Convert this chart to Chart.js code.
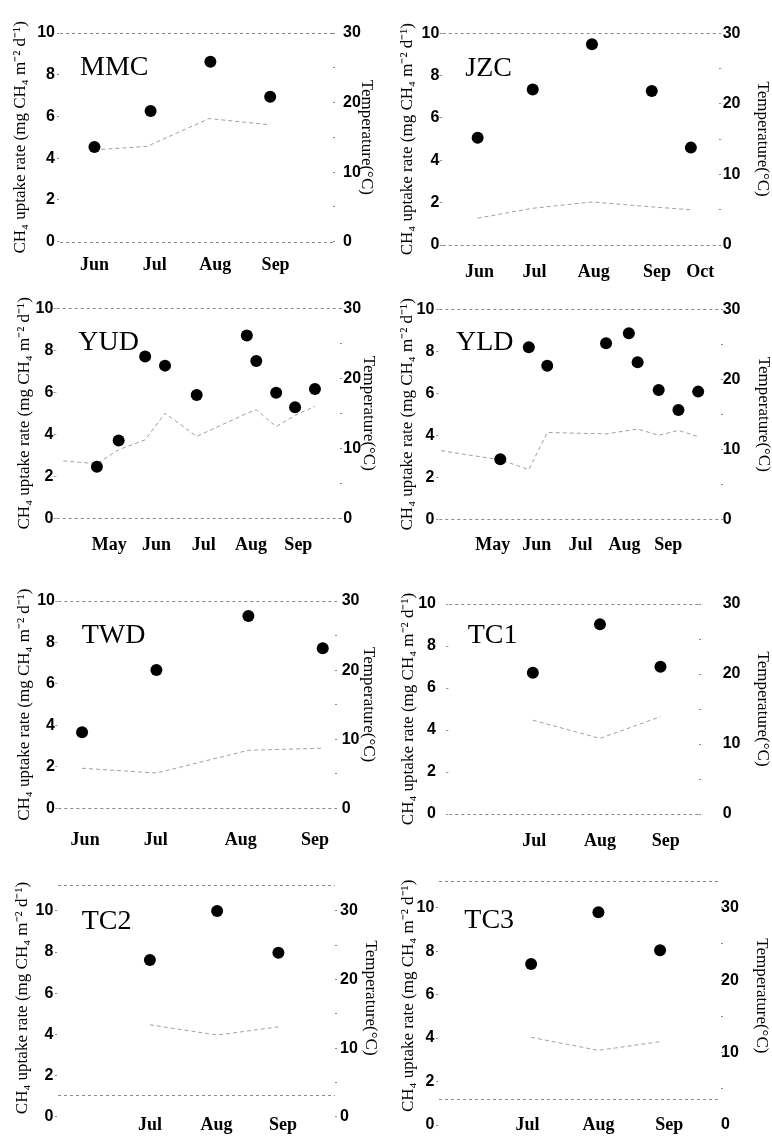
<!DOCTYPE html>
<html><head><meta charset="utf-8">
<script src="https://cdn.jsdelivr.net/npm/chart.js@4.4.1/dist/chart.umd.min.js"></script>
<style>
html,body{margin:0;padding:0;background:#fff;}
#wrap{position:relative;width:772px;height:1140px;overflow:hidden;background:#fff;}
canvas{position:absolute;}
</style></head><body><div id="wrap"></div>
<script>
// ---------- DATA (time in month units: 6 = Jun, 7 = Jul ...) ----------
const uptakeTicks = [0, 2, 4, 6, 8, 10];
const tempTicks = [0, 5, 10, 15, 20, 25, 30];

// MMC
const mmcMonths = ['Jun', 'Jul', 'Aug', 'Sep'];
const mmcMonthPos = [6, 7, 8, 9];
const mmcXRange = [5.43, 9.95];
const mmcTime = [6.0, 6.93, 7.92, 8.91];
const mmcUptake = [4.54, 6.26, 8.62, 6.95];
const mmcTempTime = [6.0, 6.87, 7.9, 8.91];
const mmcTemp = [13.2, 13.7, 17.7, 16.8];

// JZC
const jzcMonths = ['Jun', 'Jul', 'Aug', 'Sep', 'Oct'];
const jzcMonthPos = [6.0, 6.93, 7.93, 9.0, 9.73];
const jzcXRange = [5.38, 10.05];
const jzcTime = [5.97, 6.90, 7.90, 8.91, 9.57];
const jzcUptake = [5.07, 7.35, 9.48, 7.27, 4.60];
const jzcTempTime = [5.97, 6.90, 7.90, 8.91, 9.57];
const jzcTemp = [3.8, 5.2, 6.1, 5.4, 5.0];

// YUD
const yudMonths = ['May', 'Jun', 'Jul', 'Aug', 'Sep'];
const yudMonthPos = [5, 6, 7, 8, 9];
const yudXRange = [3.89, 9.88];
const yudTime = [4.74, 5.20, 5.76, 6.18, 6.85, 7.91, 8.11, 8.53, 8.93, 9.35];
const yudUptake = [2.46, 3.70, 7.70, 7.27, 5.87, 8.71, 7.49, 5.98, 5.29, 6.16];
const yudTempTime = [4.03, 4.74, 5.20, 5.76, 6.18, 6.85, 7.91, 8.11, 8.53, 8.93, 9.35];
const yudTemp = [8.2, 7.8, 9.8, 11.2, 15.0, 11.7, 15.0, 15.5, 13.1, 14.7, 16.0];

// YLD
const yldMonths = ['May', 'Jun', 'Jul', 'Aug', 'Sep'];
const yldMonthPos = [5, 6, 7, 8, 9];
const yldXRange = [3.78, 10.20];
const yldTime = [5.17, 5.82, 6.24, 7.58, 8.10, 8.30, 8.78, 9.23, 9.68];
const yldUptake = [2.86, 8.19, 7.31, 8.38, 8.86, 7.48, 6.16, 5.20, 6.08];
const yldTempTime = [3.82, 5.17, 5.82, 6.24, 7.58, 8.10, 8.30, 8.78, 9.23, 9.68];
const yldTemp = [9.8, 8.5, 7.1, 12.4, 12.2, 12.7, 12.9, 12.0, 12.7, 11.8];

// TWD
const twdMonths = ['Jun', 'Jul', 'Aug', 'Sep'];
const twdMonthPos = [6, 6.92, 8.03, 9];
const twdXRange = [5.65, 9.26];
const twdTime = [5.96, 6.93, 8.13, 9.10];
const twdUptake = [3.67, 6.67, 9.28, 7.72];
const twdTempTime = [5.96, 6.93, 8.13, 9.10];
const twdTemp = [5.8, 5.1, 8.4, 8.7];

// TC1
const tc1Months = ['Jul', 'Aug', 'Sep'];
const tc1MonthPos = [7, 8, 9];
const tc1XRange = [5.71, 9.51];
const tc1Time = [6.98, 8.0, 8.92];
const tc1Uptake = [6.73, 9.03, 7.01];
const tc1TempTime = [6.98, 8.0, 8.92];
const tc1Temp = [13.4, 10.8, 13.9];

// TC2
const tc2Months = ['Jul', 'Aug', 'Sep'];
const tc2MonthPos = [7, 8, 9];
const tc2XRange = [5.62, 9.78];
const tc2Time = [7.0, 8.01, 8.93];
const tc2Uptake = [7.62, 10.0, 7.97];
const tc2TempTime = [7.0, 8.01, 8.93];
const tc2Temp = [13.4, 11.9, 13.1];

// TC3
const tc3Months = ['Jul', 'Aug', 'Sep'];
const tc3MonthPos = [7, 8, 9];
const tc3XRange = [5.75, 9.73];
const tc3Time = [7.05, 8.0, 8.87];
const tc3Uptake = [7.41, 9.79, 8.04];
const tc3TempTime = [7.05, 8.0, 8.87];
const tc3Temp = [12.1, 10.3, 11.5];

// y-axis top values and frame lines (left-axis units)
const yMaxes = [10, 10, 10, 10, 10, 10, 11.26, 11.24];
const frameLines = [[0, 10], [0, 10], [0, 10], [0, 10], [0, 10], [0, 10], [1.05, 11.26], [1.21, 11.24]];

const panels = [
  {name: 'MMC', months: mmcMonths, pos: mmcMonthPos, xr: mmcXRange, t: mmcTime, u: mmcUptake, tt: mmcTempTime, temp: mmcTemp},
  {name: 'JZC', months: jzcMonths, pos: jzcMonthPos, xr: jzcXRange, t: jzcTime, u: jzcUptake, tt: jzcTempTime, temp: jzcTemp},
  {name: 'YUD', months: yudMonths, pos: yudMonthPos, xr: yudXRange, t: yudTime, u: yudUptake, tt: yudTempTime, temp: yudTemp},
  {name: 'YLD', months: yldMonths, pos: yldMonthPos, xr: yldXRange, t: yldTime, u: yldUptake, tt: yldTempTime, temp: yldTemp},
  {name: 'TWD', months: twdMonths, pos: twdMonthPos, xr: twdXRange, t: twdTime, u: twdUptake, tt: twdTempTime, temp: twdTemp},
  {name: 'TC1', months: tc1Months, pos: tc1MonthPos, xr: tc1XRange, t: tc1Time, u: tc1Uptake, tt: tc1TempTime, temp: tc1Temp},
  {name: 'TC2', months: tc2Months, pos: tc2MonthPos, xr: tc2XRange, t: tc2Time, u: tc2Uptake, tt: tc2TempTime, temp: tc2Temp},
  {name: 'TC3', months: tc3Months, pos: tc3MonthPos, xr: tc3XRange, t: tc3Time, u: tc3Uptake, tt: tc3TempTime, temp: tc3Temp}
];

// ---------- LAYOUT (pixels, relative to each 386x285 panel canvas) ----------
// T: pixel of y top value, Z: pixel of y = 0, B: bottom of plotting box
const PW = 386, PH = 285;
const geom = [
  {col: 0, row: 0, L: 60, R: 333, T: 33, Z: 241.7, B: 241.7, lEnd: 55, rStart: 343, lTitle: 21, rTitle: 366.7, mY: 265, lx: 80, ly: 75},
  {col: 1, row: 0, L: 56.7, R: 333.3, T: 33.3, Z: 245, B: 245, lEnd: 53.3, rStart: 336.7, lTitle: 21.5, rTitle: 376.7, mY: 272, lx: 79.3, ly: 76},
  {col: 0, row: 1, L: 56.7, R: 340, T: 23.3, Z: 233.3, B: 233.3, lEnd: 53.3, rStart: 343.3, lTitle: 25, rTitle: 368.3, mY: 260, lx: 78.3, ly: 65},
  {col: 1, row: 1, L: 53.3, R: 335, T: 24.3, Z: 234.3, B: 234.3, lEnd: 48.3, rStart: 336.7, lTitle: 21.7, rTitle: 378.3, mY: 260, lx: 70, ly: 65},
  {col: 0, row: 2, L: 58.3, R: 335, T: 31, Z: 238.3, B: 238.3, lEnd: 55, rStart: 341.7, lTitle: 25, rTitle: 368.3, mY: 270, lx: 81.7, ly: 73.3},
  {col: 1, row: 2, L: 63.3, R: 313.3, T: 34, Z: 244, B: 244, lEnd: 50, rStart: 336.7, lTitle: 22.5, rTitle: 376.7, mY: 271.7, lx: 81.7, ly: 73.3},
  {col: 0, row: 3, L: 58, R: 335, T: 30, Z: 261.7, B: 256, lEnd: 53.3, rStart: 340, lTitle: 22.5, rTitle: 370, mY: 270, lx: 81.7, ly: 74.3},
  {col: 1, row: 3, L: 53, R: 335, T: 25.7, Z: 270, B: 256, lEnd: 48.3, rStart: 335, lTitle: 22.5, rTitle: 375, mY: 270, lx: 78.3, ly: 73.3}
];

const decor = {
  id: 'decor',
  beforeDatasetsDraw(chart, args, opts) {
    const ctx = chart.ctx, ca = chart.chartArea, y = chart.scales.y;
    ctx.save();
    ctx.strokeStyle = '#8a8a8a';
    ctx.lineWidth = 1;
    ctx.setLineDash([3, 3]);
    opts.lines.forEach(v => {
      const py = Math.round(y.getPixelForValue(v)) + 0.5;
      ctx.beginPath(); ctx.moveTo(ca.left, py); ctx.lineTo(ca.right, py); ctx.stroke();
    });
    ctx.setLineDash([]);
    ctx.fillStyle = '#000';
    ctx.font = '28px "Liberation Serif"';
    ctx.textBaseline = 'alphabetic';
    ctx.textAlign = 'left';
    ctx.fillText(opts.label, opts.lx, opts.ly);
    ctx.restore();
  }
};

const wrap = document.getElementById('wrap');
const numFont = {family: '"Liberation Sans"', size: 16, weight: 'bold'};
const MONTH_LH = 0.2;
const monthFont = {family: '"Liberation Serif"', size: 18, weight: 'bold', lineHeight: MONTH_LH};
const titleFont = {family: '"Liberation Serif"', size: 17, lineHeight: 1};
const TL = 3;

panels.forEach((p, i) => {
  const g = geom[i];
  const ymax = yMaxes[i];
  const k = (g.Z - g.T) / ymax;          // pixels per left-axis unit
  const ymin = (g.Z - g.B) / k;          // value at the plotting-box bottom
  const cv = document.createElement('canvas');
  cv.width = PW; cv.height = PH;
  cv.style.left = (g.col * PW) + 'px';
  cv.style.top = (g.row * PH) + 'px';
  cv.style.width = PW + 'px'; cv.style.height = PH + 'px';
  wrap.appendChild(cv);
  new Chart(cv, {
    type: 'scatter',
    data: {
      datasets: [
        {
          label: 'Temperature (°C)',
          data: p.tt.map((t, j) => ({x: t, y: p.temp[j]})),
          yAxisID: 'y2', showLine: true, tension: 0,
          borderColor: '#a0a0a0', borderWidth: 1, borderDash: [4, 3],
          pointRadius: 0, order: 2
        },
        {
          label: 'CH₄ uptake rate',
          data: p.t.map((t, j) => ({x: t, y: p.u[j]})),
          yAxisID: 'y', showLine: false,
          pointRadius: 6, pointBackgroundColor: '#000', pointBorderColor: '#000', pointBorderWidth: 0,
          order: 1
        }
      ]
    },
    options: {
      responsive: false, animation: false, devicePixelRatio: 1,
      layout: {padding: {top: g.T, left: 0, right: 0, bottom: 0}},
      plugins: {
        legend: {display: false}, tooltip: {enabled: false},
        decor: {lines: frameLines[i], label: p.name, lx: g.lx, ly: g.ly}
      },
      scales: {
        x: {
          type: 'linear', position: 'bottom', min: p.xr[0], max: p.xr[1],
          afterBuildTicks: s => { s.ticks = p.pos.map(v => ({value: v})); },
          afterFit: s => { s.height = PH - g.B; },
          grid: {display: false, drawTicks: false}, border: {display: false},
          ticks: {autoSkip: false, maxRotation: 0, minRotation: 0, color: '#000', font: monthFont,
                  padding: Math.max(0, g.mY - g.B - 18 * MONTH_LH / 2), callback: (v, j) => p.months[j]}
        },
        y: {
          type: 'linear', position: 'left', min: ymin, max: ymax,
          afterBuildTicks: s => { s.ticks = uptakeTicks.map(v => ({value: v})); },
          afterFit: s => { s.width = g.L; },
          grid: {drawOnChartArea: false, drawTicks: true, tickLength: TL, color: '#8a8a8a', tickBorderDash: [2, 1]},
          border: {display: false},
          ticks: {color: '#000', font: numFont, padding: g.L - g.lEnd - TL},
          title: {display: true, text: 'CH₄ uptake rate (mg CH₄ m⁻² d⁻¹)', color: '#000', font: titleFont,
                  padding: {top: g.lTitle - 8.5, bottom: 0}}
        },
        y2: {
          type: 'linear', position: 'right', min: ymin * 3, max: ymax * 3,
          afterBuildTicks: s => { s.ticks = tempTicks.map(v => ({value: v})); },
          afterFit: s => { s.width = PW - g.R; },
          grid: {drawOnChartArea: false, drawTicks: true, tickLength: TL, color: '#8a8a8a', tickBorderDash: [2, 1]},
          border: {display: false},
          ticks: {color: '#000', font: numFont, padding: g.rStart - g.R - TL,
                  callback: v => (v % 10 === 0 ? String(v) : '')},
          title: {display: true, text: 'Temperature(°C)', color: '#000', font: titleFont,
                  padding: {top: Math.max(0, PW - g.rTitle - 8.5), bottom: 0}}
        }
      }
    },
    plugins: [decor]
  });
});
</script></body></html>
